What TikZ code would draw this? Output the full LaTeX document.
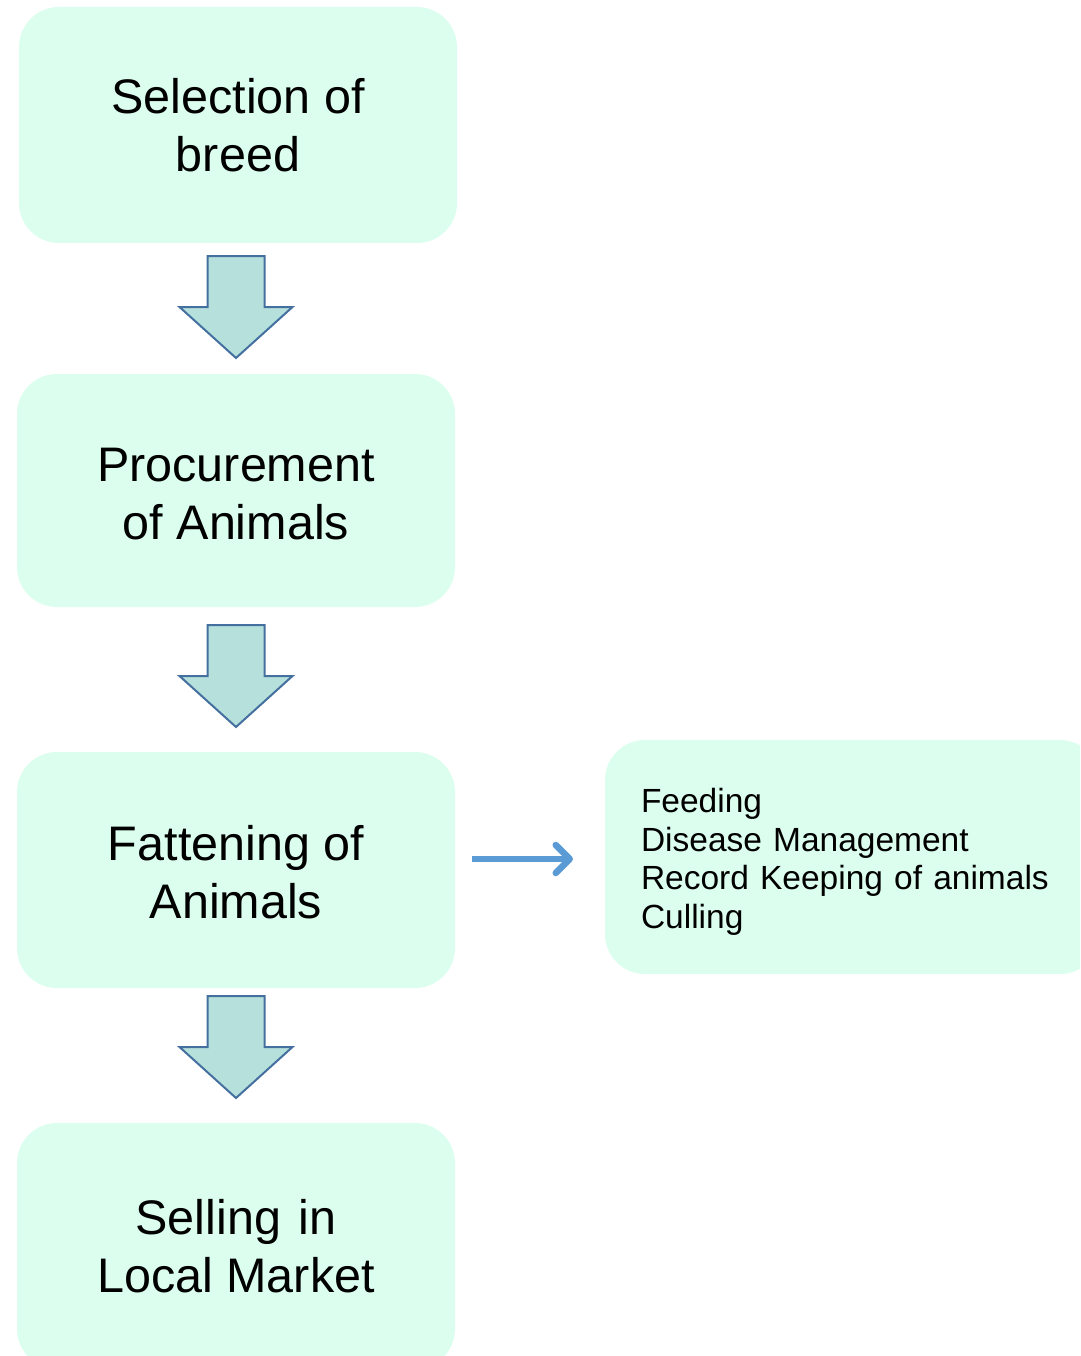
\documentclass[tikz,border=0pt]{standalone}
\usepackage{fontspec}
\setmainfont{Liberation Sans}
\usetikzlibrary{arrows.meta,calc}
\definecolor{boxfill}{HTML}{DCFEEE}
\definecolor{arrfill}{HTML}{B6E0DB}
\definecolor{arrline}{HTML}{4470A0}
\definecolor{blueline}{HTML}{5B9BD5}
\tikzset{
  stepbox/.style={fill=boxfill, draw=none, rounded corners=40pt, minimum width=438pt,
    align=center, font=\fontsize{48.5}{58}\selectfont, inner sep=0pt},
  sidebox/.style={fill=boxfill, draw=none, rounded corners=40pt, minimum height=234pt,
    text width=423pt, inner xsep=36pt, align=left, font=\fontsize{33.5}{38.7}\selectfont},
  blockarrow/.style={fill=arrfill, draw=arrline, line width=2pt, line join=miter},
  linkarrow/.style={draw=blueline, line width=6.5pt, -{Straight Barb[length=14pt,width=28pt,round]}}
}
\begin{document}
\begin{tikzpicture}[x=1pt,y=-1pt]
\useasboundingbox (0,0) rectangle (1080,1356);
\clip (0,0) rectangle (1080,1356);
\node[stepbox, minimum height=236pt] (b1) at (238,125) {Selection of\\breed};
\node[stepbox, minimum height=233pt] (b2) at (236,490.5) {\rule{0pt}{40pt}Procurement\\of Animals};
\node[stepbox, minimum height=236pt] (b3) at (236,870) {\rule{0pt}{40pt}Fattening of\\Animals};
\node[stepbox, minimum height=246pt] (b4) at (236,1246) {Selling\hspace{4pt} in\\Local Market};
\node[sidebox] (s) at (852.5,857) {\rule{0pt}{34pt}Feeding\\Disease Management\\Record Keeping of animals\\Culling};
% block arrows
\coordinate (t1) at (236,256);
\coordinate (t2) at (236,625);
\coordinate (t3) at (236,996);
\foreach \t in {t1,t2,t3}{
  \draw[blockarrow] (\t) ++(-28.5,0) -- ++(0,51) -- ++(-28,0) -- ++(56.5,51) -- ++(56.5,-51) -- ++(-28,0) -- ++(0,-51) -- cycle;
}
\coordinate (c1) at (472,859);
\coordinate (c2) at (573,859);
\draw[linkarrow] (c1) -- (c2);
\end{tikzpicture}
\end{document}
